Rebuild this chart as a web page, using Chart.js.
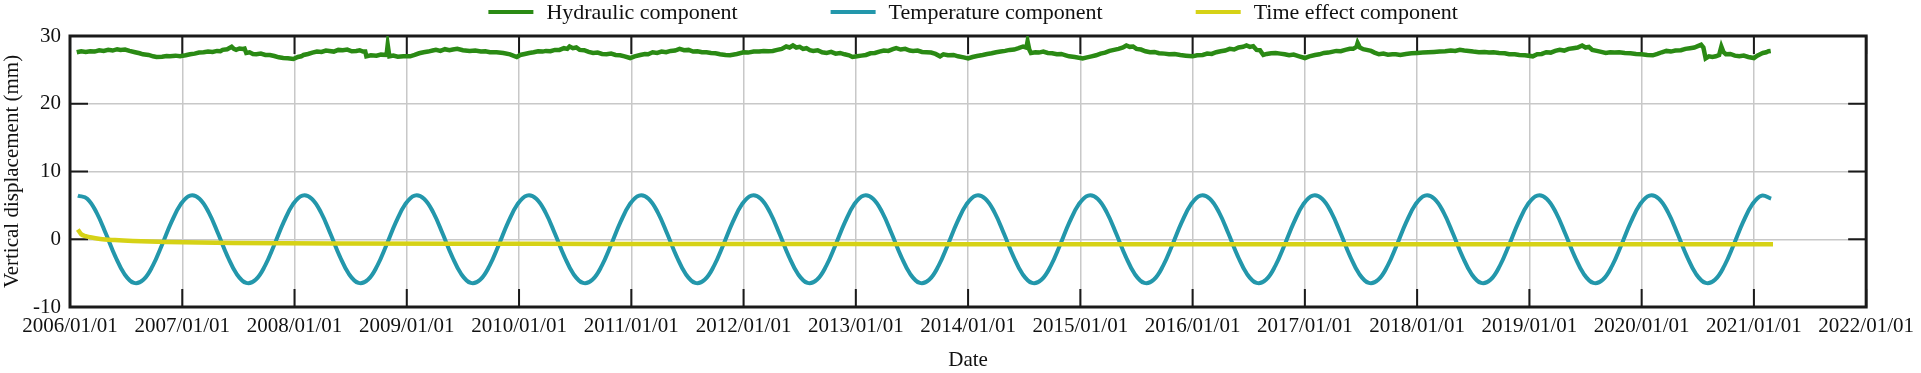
<!DOCTYPE html>
<html>
<head>
<meta charset="utf-8">
<script src="https://cdn.jsdelivr.net/npm/chart.js@4/dist/chart.umd.min.js"></script>
<style>
  html, body { margin: 0; padding: 0; background: #fff; }
  #wrap { width: 1921px; height: 373px; }
</style>
</head>
<body>
<div id="wrap"><canvas id="graficoDesplazamiento" width="1921" height="373"></canvas></div>
<script>
// Ticks del eje X (años) y eje Y
const anios = [2006, 2007, 2008, 2009, 2010, 2011, 2012, 2013, 2014, 2015, 2016, 2017, 2018, 2019, 2020, 2021, 2022];
const ticksY = [-10, 0, 10, 20, 30];

// Componente hidráulica (fecha en años decimales, valor en mm)
const fechasHidraulica = [
    2006.06, 2006.10, 2006.14, 2006.18, 2006.22, 2006.26, 2006.30, 2006.34, 2006.38, 2006.42, 2006.45, 2006.49, 2006.53, 2006.58, 2006.62, 2006.65, 2006.70, 2006.74, 2006.77, 2006.82, 2006.86, 2006.89, 2006.94, 2006.98,
    2007.03, 2007.07, 2007.11, 2007.15, 2007.19, 2007.23, 2007.27, 2007.31, 2007.34, 2007.36, 2007.40, 2007.44, 2007.46, 2007.48, 2007.51, 2007.54, 2007.555, 2007.57, 2007.60, 2007.63, 2007.66, 2007.70, 2007.74, 2007.78, 2007.82, 2007.86, 2007.90, 2007.94, 2007.99,
    2008.03, 2008.06, 2008.08, 2008.12, 2008.16, 2008.20, 2008.24, 2008.28, 2008.31, 2008.35, 2008.39, 2008.43, 2008.47, 2008.51, 2008.55, 2008.58, 2008.61, 2008.63, 2008.64, 2008.68, 2008.73, 2008.77, 2008.82, 2008.83, 2008.845, 2008.88, 2008.92, 2008.97,
    2009.03, 2009.07, 2009.11, 2009.15, 2009.19, 2009.23, 2009.26, 2009.30, 2009.34, 2009.38, 2009.41, 2009.45, 2009.50, 2009.56, 2009.61, 2009.66, 2009.70, 2009.74, 2009.80, 2009.86, 2009.92, 2009.98,
    2010.01, 2010.05, 2010.09, 2010.13, 2010.17, 2010.21, 2010.24, 2010.28, 2010.32, 2010.36, 2010.40, 2010.43, 2010.45, 2010.48, 2010.51, 2010.54, 2010.58, 2010.62, 2010.66, 2010.70, 2010.74, 2010.78, 2010.82, 2010.86, 2010.90, 2010.94, 2010.99,
    2011.03, 2011.08, 2011.12, 2011.15, 2011.19, 2011.23, 2011.27, 2011.31, 2011.35, 2011.39, 2011.43, 2011.47, 2011.51, 2011.55, 2011.59, 2011.63, 2011.67, 2011.71, 2011.75, 2011.79, 2011.84, 2011.88, 2011.94,
    2012.00, 2012.04, 2012.09, 2012.14, 2012.18, 2012.22, 2012.26, 2012.30, 2012.34, 2012.38, 2012.41, 2012.44, 2012.47, 2012.50, 2012.53, 2012.56, 2012.59, 2012.62, 2012.66, 2012.70, 2012.74, 2012.78, 2012.82, 2012.86, 2012.90, 2012.94, 2012.97,
    2013.01, 2013.05, 2013.09, 2013.13, 2013.17, 2013.21, 2013.25, 2013.29, 2013.33, 2013.36, 2013.40, 2013.44, 2013.48, 2013.51, 2013.55, 2013.59, 2013.63, 2013.67, 2013.71, 2013.75, 2013.78, 2013.82, 2013.87, 2013.91, 2013.96, 2014.00,
    2014.04, 2014.08, 2014.13, 2014.17, 2014.21, 2014.25, 2014.29, 2014.33, 2014.37, 2014.41, 2014.45, 2014.49, 2014.52, 2014.53, 2014.545, 2014.56, 2014.60, 2014.63, 2014.67, 2014.71, 2014.75, 2014.79, 2014.83, 2014.87, 2014.90, 2014.95, 2015.02,
    2015.06, 2015.10, 2015.14, 2015.18, 2015.22, 2015.26, 2015.30, 2015.34, 2015.38, 2015.41, 2015.44, 2015.47, 2015.50, 2015.54, 2015.58, 2015.62, 2015.66, 2015.70, 2015.75, 2015.79, 2015.84, 2015.89, 2015.94, 2016.00,
    2016.04, 2016.09, 2016.13, 2016.17, 2016.21, 2016.25, 2016.29, 2016.33, 2016.37, 2016.41, 2016.45, 2016.48, 2016.51, 2016.54, 2016.57, 2016.60, 2016.63, 2016.66, 2016.70, 2016.74, 2016.78, 2016.82, 2016.86, 2016.90, 2016.95, 2017.00,
    2017.04, 2017.09, 2017.13, 2017.17, 2017.21, 2017.25, 2017.28, 2017.32, 2017.36, 2017.40, 2017.43, 2017.46, 2017.47, 2017.49, 2017.52, 2017.55, 2017.59, 2017.62, 2017.66, 2017.70, 2017.74, 2017.78, 2017.81, 2017.85, 2017.90, 2017.95, 2018.00,
    2018.05, 2018.10, 2018.15, 2018.20, 2018.25, 2018.30, 2018.34, 2018.38, 2018.42, 2018.46, 2018.50, 2018.55, 2018.60, 2018.64, 2018.68, 2018.73, 2018.78, 2018.82, 2018.87, 2018.91, 2018.96, 2019.03,
    2019.07, 2019.11, 2019.15, 2019.19, 2019.23, 2019.27, 2019.31, 2019.35, 2019.39, 2019.43, 2019.47, 2019.50, 2019.53, 2019.56, 2019.60, 2019.64, 2019.68, 2019.72, 2019.76, 2019.80, 2019.85, 2019.90, 2019.95, 2020.00,
    2020.05, 2020.10, 2020.14, 2020.18, 2020.22, 2020.26, 2020.30, 2020.35, 2020.39, 2020.43, 2020.47, 2020.50, 2020.53, 2020.55, 2020.57, 2020.60, 2020.63, 2020.66, 2020.69, 2020.71, 2020.73, 2020.75, 2020.79, 2020.83, 2020.87, 2020.91, 2020.95, 2021.00,
    2021.03, 2021.06, 2021.08, 2021.11, 2021.13, 2021.15
];
const valoresHidraulica = [
    27.6, 27.75, 27.65, 27.75, 27.7, 27.9, 27.8, 27.95, 27.85, 28.05, 27.95, 28.0, 27.8, 27.6, 27.45, 27.3, 27.2, 27.0, 26.9, 26.95, 27.05, 27.0, 27.1, 27.0,
    27.15, 27.3, 27.4, 27.55, 27.6, 27.7, 27.65, 27.8, 27.75, 27.95, 28.05, 28.4, 28.1, 27.95, 28.15, 28.1, 28.15, 27.5, 27.6, 27.35, 27.3, 27.4, 27.2, 27.2, 27.05, 26.85, 26.75, 26.7, 26.6,
    26.9, 27.0, 27.2, 27.35, 27.55, 27.7, 27.65, 27.85, 27.8, 27.7, 27.95, 27.9, 28.0, 27.75, 27.8, 27.9, 27.7, 27.7, 27.0, 27.15, 27.1, 27.25, 27.2, 28.7, 27.0, 27.1, 26.95, 27.0,
    27.0, 27.2, 27.45, 27.6, 27.7, 27.85, 27.95, 27.8, 28.05, 27.9, 28.0, 28.1, 27.9, 27.8, 27.85, 27.7, 27.75, 27.6, 27.6, 27.5, 27.3, 26.9,
    27.2, 27.35, 27.5, 27.6, 27.75, 27.7, 27.8, 27.75, 27.95, 27.95, 28.2, 28.1, 28.45, 28.2, 28.3, 27.95, 27.9, 27.65, 27.5, 27.55, 27.35, 27.3, 27.4, 27.2, 27.15, 27.0, 26.75,
    27.0, 27.2, 27.35, 27.3, 27.6, 27.5, 27.7, 27.6, 27.8, 27.85, 28.1, 27.9, 27.95, 27.7, 27.75, 27.6, 27.6, 27.5, 27.45, 27.3, 27.2, 27.15, 27.35,
    27.6, 27.55, 27.7, 27.7, 27.8, 27.75, 27.8, 27.95, 28.1, 28.45, 28.3, 28.6, 28.3, 28.4, 28.1, 28.2, 27.9, 27.8, 27.9, 27.6, 27.5, 27.65, 27.4, 27.5, 27.3, 27.15, 26.9,
    27.0, 27.1, 27.2, 27.45, 27.5, 27.7, 27.85, 27.8, 28.05, 28.2, 28.0, 28.1, 27.85, 27.8, 27.85, 27.65, 27.6, 27.55, 27.35, 27.0, 27.3, 27.15, 27.2, 27.0, 26.85, 26.7,
    26.9, 27.05, 27.2, 27.35, 27.45, 27.6, 27.7, 27.8, 27.95, 28.0, 28.2, 28.45, 28.3, 29.2, 28.0, 27.5, 27.6, 27.55, 27.7, 27.5, 27.45, 27.3, 27.35, 27.15, 27.0, 26.9, 26.7,
    26.85, 27.0, 27.15, 27.4, 27.55, 27.8, 27.95, 28.1, 28.3, 28.6, 28.4, 28.45, 28.1, 28.0, 27.75, 27.6, 27.65, 27.45, 27.4, 27.3, 27.35, 27.2, 27.1, 27.0,
    27.15, 27.2, 27.4, 27.35, 27.6, 27.75, 27.85, 28.1, 28.0, 28.3, 28.4, 28.6, 28.4, 28.5, 27.95, 27.9, 27.2, 27.35, 27.45, 27.5, 27.4, 27.3, 27.15, 27.25, 27.0, 26.75,
    27.0, 27.2, 27.3, 27.5, 27.55, 27.7, 27.8, 27.75, 27.95, 28.1, 28.1, 28.4, 28.97, 28.3, 28.05, 27.95, 27.8, 27.55, 27.3, 27.4, 27.25, 27.3, 27.3, 27.2, 27.35, 27.45, 27.5,
    27.55, 27.6, 27.65, 27.7, 27.75, 27.85, 27.8, 27.95, 27.85, 27.8, 27.7, 27.6, 27.65, 27.55, 27.6, 27.5, 27.45, 27.3, 27.3, 27.2, 27.15, 27.0,
    27.3, 27.35, 27.6, 27.55, 27.8, 27.95, 27.85, 28.1, 28.2, 28.3, 28.6, 28.3, 28.4, 27.95, 27.8, 27.65, 27.5, 27.6, 27.55, 27.6, 27.5, 27.45, 27.35, 27.3,
    27.2, 27.15, 27.35, 27.6, 27.8, 27.7, 27.85, 27.9, 28.1, 28.2, 28.3, 28.5, 28.7, 28.3, 26.7, 27.0, 26.9, 27.0, 27.2, 28.45, 27.6, 27.3, 27.35, 27.1, 27.0, 27.1, 26.9, 26.75,
    27.1, 27.35, 27.5, 27.6, 27.75, 27.8
];

// Componente de temperatura: un valor por mes desde 2006.07
const inicioTemperatura = 2006.07;
const valoresTemperatura = [
    6.45, 5.99, 3.93, 0.81, -2.52, -5.18, -6.45, -5.99, -3.93, -0.81, 2.52, 5.18,
    6.45, 5.99, 3.93, 0.81, -2.52, -5.18, -6.45, -5.99, -3.93, -0.81, 2.52, 5.18,
    6.45, 5.99, 3.93, 0.81, -2.52, -5.18, -6.45, -5.99, -3.93, -0.81, 2.52, 5.18,
    6.45, 5.99, 3.93, 0.81, -2.52, -5.18, -6.45, -5.99, -3.93, -0.81, 2.52, 5.18,
    6.45, 5.99, 3.93, 0.81, -2.52, -5.18, -6.45, -5.99, -3.93, -0.81, 2.52, 5.18,
    6.45, 5.99, 3.93, 0.81, -2.52, -5.18, -6.45, -5.99, -3.93, -0.81, 2.52, 5.18,
    6.45, 5.99, 3.93, 0.81, -2.52, -5.18, -6.45, -5.99, -3.93, -0.81, 2.52, 5.18,
    6.45, 5.99, 3.93, 0.81, -2.52, -5.18, -6.45, -5.99, -3.93, -0.81, 2.52, 5.18,
    6.45, 5.99, 3.93, 0.81, -2.52, -5.18, -6.45, -5.99, -3.93, -0.81, 2.52, 5.18,
    6.45, 5.99, 3.93, 0.81, -2.52, -5.18, -6.45, -5.99, -3.93, -0.81, 2.52, 5.18,
    6.45, 5.99, 3.93, 0.81, -2.52, -5.18, -6.45, -5.99, -3.93, -0.81, 2.52, 5.18,
    6.45, 5.99, 3.93, 0.81, -2.52, -5.18, -6.45, -5.99, -3.93, -0.81, 2.52, 5.18,
    6.45, 5.99, 3.93, 0.81, -2.52, -5.18, -6.45, -5.99, -3.93, -0.81, 2.52, 5.18,
    6.45, 5.99, 3.93, 0.81, -2.52, -5.18, -6.45, -5.99, -3.93, -0.81, 2.52, 5.18,
    6.45, 5.99, 3.93, 0.81, -2.52, -5.18, -6.45, -5.99, -3.93, -0.81, 2.52, 5.18,
    6.45, 5.99
];

// Componente de efecto del tiempo
const fechasTiempo = [2006.07, 2006.10, 2006.14, 2006.18, 2006.27, 2006.40, 2006.56, 2006.86, 2007.45, 2008.34, 2010.0, 2012.0, 2014.0, 2016.0, 2018.0, 2021.17];
const valoresTiempo = [1.45, 0.74, 0.45, 0.29, 0.04, -0.12, -0.25, -0.4, -0.55, -0.64, -0.68, -0.7, -0.72, -0.73, -0.74, -0.75];

const fuente = '"Liberation Serif", "Times New Roman", serif';

function puntos(xs, ys) {
    return ys.map((v, i) => ({ x: xs[i], y: v }));
}

// Dibujo el marco y las marcas hacia adentro
const marcoPlugin = {
    id: 'marco',
    beforeDatasetsDraw(chart) {
        const { ctx, chartArea: a, scales } = chart;
        ctx.save();
        ctx.strokeStyle = '#1a1a1a';
        ctx.lineWidth = 2;
        ctx.beginPath();
        anios.forEach(v => {
            const px = scales.x.getPixelForValue(v);
            ctx.moveTo(px, a.bottom); ctx.lineTo(px, a.bottom - 18);
            ctx.moveTo(px, a.top); ctx.lineTo(px, a.top + 18);
        });
        ticksY.forEach(v => {
            const py = scales.y.getPixelForValue(v);
            ctx.moveTo(a.left, py); ctx.lineTo(a.left + 18, py);
            ctx.moveTo(a.right, py); ctx.lineTo(a.right - 18, py);
        });
        ctx.stroke();
        ctx.lineWidth = 3;
        ctx.strokeRect(a.left, a.top, a.right - a.left, a.bottom - a.top);
        ctx.restore();
    }
};

// Leyenda horizontal con líneas
const leyendaPlugin = {
    id: 'leyendaLineas',
    afterDraw(chart) {
        const { ctx, chartArea: a } = chart;
        ctx.save();
        ctx.font = '22px ' + fuente;
        ctx.textBaseline = 'middle';
        const largo = 45, sep = 13, espacio = 93;
        const items = chart.data.datasets.map(ds => ({
            texto: ds.label,
            color: ds.borderColor,
            ancho: largo + sep + ctx.measureText(ds.label).width
        }));
        const total = items.reduce((s, it) => s + it.ancho, 0) + espacio * (items.length - 1);
        let x = (a.left + a.right) / 2 + 5 - total / 2;
        const y = 12;
        items.forEach(it => {
            ctx.strokeStyle = it.color;
            ctx.lineWidth = 4;
            ctx.beginPath();
            ctx.moveTo(x, y); ctx.lineTo(x + largo, y);
            ctx.stroke();
            ctx.fillStyle = '#111';
            ctx.fillText(it.texto, x + largo + sep, y + 1);
            x += it.ancho + espacio;
        });
        ctx.restore();
    }
};

const ctx = document.getElementById('graficoDesplazamiento').getContext('2d');

new Chart(ctx, {
    type: 'line',
    data: {
        datasets: [{
            label: 'Hydraulic component',
            data: puntos(fechasHidraulica, valoresHidraulica),
            borderColor: '#2a8a14',
            borderWidth: 4.5,
            pointRadius: 0,
            tension: 0,
            order: 3
        }, {
            label: 'Temperature component',
            data: valoresTemperatura.map((v, i) => ({ x: inicioTemperatura + i / 12, y: v })),
            borderColor: '#2397ab',
            borderWidth: 4,
            pointRadius: 0,
            tension: 0.4,
            order: 2
        }, {
            label: 'Time effect component',
            data: puntos(fechasTiempo, valoresTiempo),
            borderColor: '#d6d216',
            borderWidth: 4.5,
            pointRadius: 0,
            cubicInterpolationMode: 'monotone',
            order: 1
        }]
    },
    options: {
        responsive: false,
        animation: false,
        layout: { padding: { top: 36, right: 54, left: 0, bottom: 0 } },
        plugins: {
            legend: { display: false },
            tooltip: { enabled: false }
        },
        scales: {
            x: {
                type: 'linear',
                min: 2006,
                max: 2022,
                afterFit: scale => { scale.height = 66; },
                ticks: {
                    stepSize: 1,
                    autoSkip: false,
                    maxRotation: 0,
                    padding: 7,
                    color: '#111',
                    font: { family: fuente, size: 21 },
                    callback: v => v + '/01/01'
                },
                grid: { color: '#c8c8c8', lineWidth: 1.5, drawTicks: false },
                border: { display: false },
                title: {
                    display: true,
                    text: 'Date',
                    color: '#111',
                    font: { family: fuente, size: 21 },
                    padding: { top: 0, bottom: 0 }
                }
            },
            y: {
                min: -10,
                max: 30,
                afterFit: scale => { scale.width = 70; },
                ticks: {
                    stepSize: 10,
                    padding: 9,
                    color: '#111',
                    font: { family: fuente, size: 21 },
                    callback: v => String(v)
                },
                grid: { color: '#c8c8c8', lineWidth: 1.5, drawTicks: false },
                border: { display: false },
                title: {
                    display: true,
                    text: 'Vertical displacement (mm)',
                    color: '#111',
                    font: { family: fuente, size: 21 },
                    padding: { top: 0, bottom: 0 }
                }
            }
        }
    },
    plugins: [marcoPlugin, leyendaPlugin]
});
</script>
</body>
</html>
